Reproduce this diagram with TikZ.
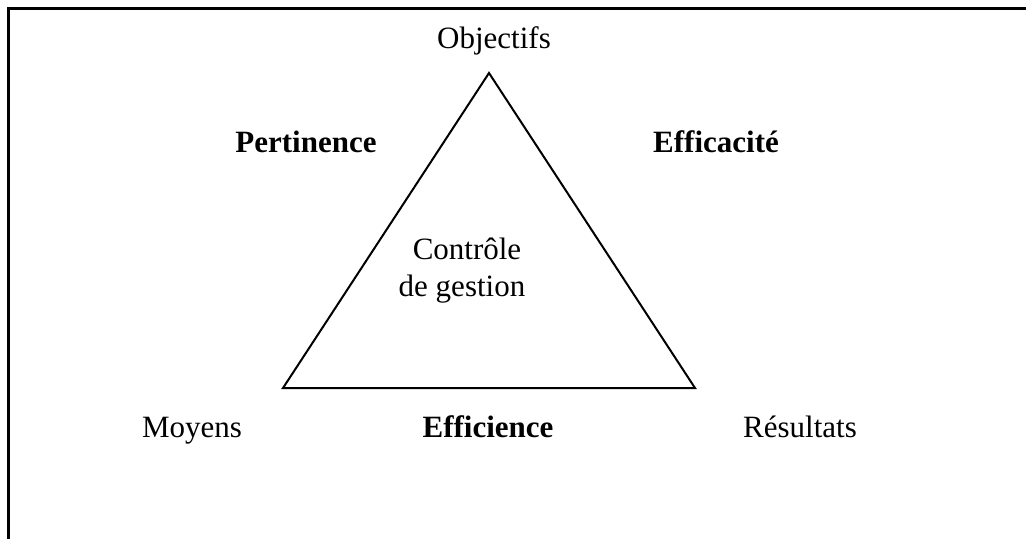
\documentclass[tikz,border=0pt]{standalone}
\usepackage{fontspec}
\setmainfont{Liberation Serif}
\begin{document}
\begin{tikzpicture}[x=1pt,y=-1pt,
  lbl/.style={inner sep=0pt,anchor=base,font=\fontsize{31}{37}\selectfont},
  bold/.style={lbl,font=\fontsize{31}{37}\selectfont\bfseries},
  edge/.style={line width=2pt,line join=miter},
  frame/.style={line width=3pt}]
  \useasboundingbox (0,0) rectangle (1026,539);
  % frame around the figure
  \coordinate (fb) at (8,539);
  \coordinate (ft) at (8,8);
  \coordinate (fr) at (1026,8);
  \draw[frame] (fb) -- (ft) -- (fr);
  % triangle vertices
  \coordinate (obj) at (489,73);
  \coordinate (moy) at (283,388);
  \coordinate (res) at (695,388);
  \draw[edge] (obj) -- (moy) -- (res) -- cycle;
  % corner labels
  \node[lbl] (tobj) at (494,48) {Objectifs};
  \node[lbl] (tmoy) at (192,437) {Moyens};
  \node[lbl] (tres) at (800,437) {Résultats};
  % side labels
  \node[bold] (pert) at (306,152) {Pertinence};
  \node[bold] (effa) at (716,152) {Efficacité};
  \node[bold] (effi) at (488,437) {Efficience};
  % centre
  \node[lbl] (ctl1) at (467,259) {Contrôle};
  \node[lbl] (ctl2) at (462,296) {de gestion};
\end{tikzpicture}
\end{document}
